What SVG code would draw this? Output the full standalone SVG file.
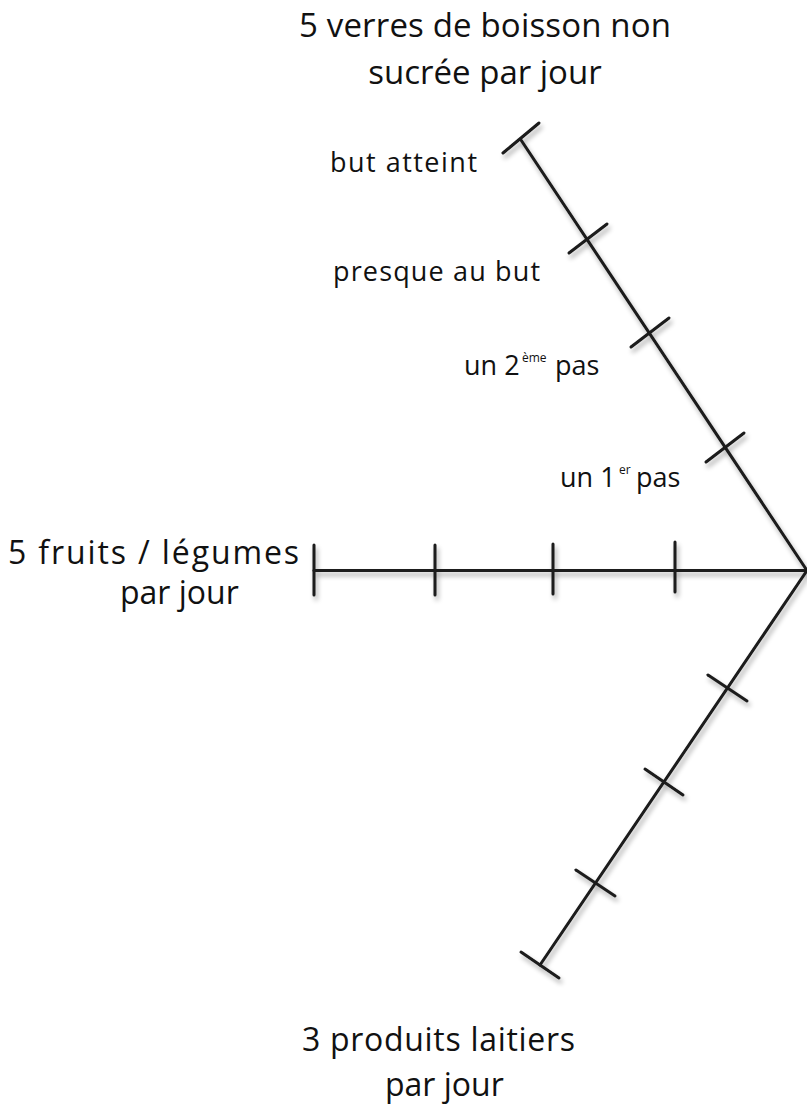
<svg xmlns="http://www.w3.org/2000/svg" width="807" height="1113" viewBox="0 0 807 1113">
<style>
.ax{stroke:#1a1a1a;stroke-width:3;stroke-linecap:round;fill:none}
.big{font-family:"Open Sans","Noto Sans",sans-serif;font-size:32px;font-weight:400;fill:#111}
.ttl{font-size:33px}
.lab{font-family:"Open Sans","Noto Sans",sans-serif;font-size:27px;font-weight:400;fill:#111}
.sup{font-size:12px}
</style>
<defs>
<filter id="sh" x="-10%" y="-10%" width="120%" height="120%">
<feGaussianBlur in="SourceAlpha" stdDeviation="2.5"/>
<feOffset dx="2" dy="4" result="b"/>
<feComponentTransfer><feFuncA type="linear" slope="0.35"/></feComponentTransfer>
<feMerge><feMergeNode/><feMergeNode in="SourceGraphic"/></feMerge>
</filter>
</defs>
<g id="connectors" filter="url(#sh)">
<g id="axis-boisson" class="ax">
<line x1="807" y1="570.5" x2="521" y2="140"/>
<line x1="503" y1="153" x2="539" y2="123"/>
<line x1="569" y1="253" x2="607" y2="224"/>
<line x1="631" y1="347" x2="669" y2="318"/>
<line x1="706" y1="462" x2="744" y2="433"/>
</g>
<g id="axis-fruits" class="ax">
<line x1="807" y1="570.5" x2="314" y2="570.5"/>
<line x1="314" y1="545" x2="314" y2="595"/>
<line x1="435" y1="545" x2="435" y2="595"/>
<line x1="553" y1="544" x2="553" y2="594"/>
<line x1="675" y1="542" x2="675" y2="592"/>
</g>
<g id="axis-laitiers" class="ax">
<line x1="807" y1="570.5" x2="540" y2="965"/>
<line x1="521" y1="952" x2="559" y2="978"/>
<line x1="708" y1="675" x2="747" y2="701"/>
<line x1="645" y1="769" x2="683" y2="795"/>
<line x1="576" y1="870" x2="615" y2="896"/>
</g>
</g>
<g id="node-boisson" class="big ttl" text-anchor="middle">
<text x="485" y="37" textLength="372" lengthAdjust="spacing">5 verres de boisson non</text>
<text x="485" y="84">sucrée par jour</text>
</g>
<g id="node-fruits" class="big">
<text x="8" y="564" textLength="291" lengthAdjust="spacing">5 fruits / légumes</text>
<text x="120" y="604">par jour</text>
</g>
<g id="node-laitiers" class="big">
<text x="302" y="1051" textLength="273" lengthAdjust="spacing">3 produits laitiers</text>
<text x="385" y="1096">par jour</text>
</g>
<g id="label-but" class="lab"><text x="330" y="172" textLength="147" lengthAdjust="spacing">but atteint</text></g>
<g id="label-presque" class="lab"><text x="333" y="281" textLength="207" lengthAdjust="spacing">presque au but</text></g>
<g id="label-2eme" class="lab">
<text x="464" y="375">un 2</text>
<text class="sup" x="522" y="362">ème</text>
<text x="555" y="375">pas</text>
</g>
<g id="label-1er" class="lab">
<text x="560" y="487">un 1</text>
<text class="sup" x="619" y="474">er</text>
<text x="636" y="487">pas</text>
</g>
</svg>
